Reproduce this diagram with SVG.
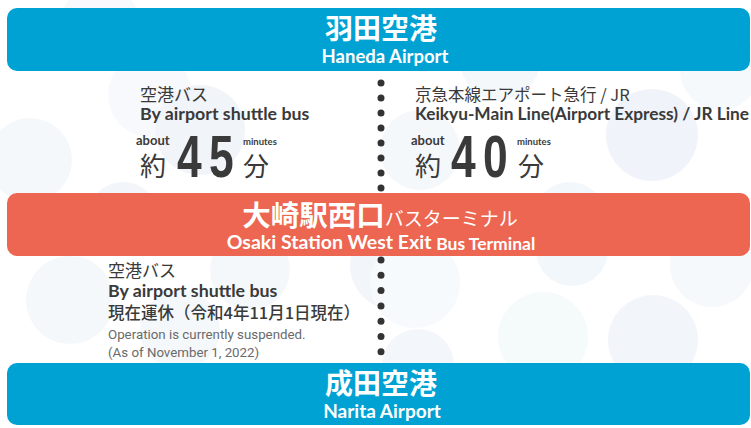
<svg xmlns="http://www.w3.org/2000/svg" width="751" height="428" viewBox="0 0 751 428">
<style>
.jp{font-family:"Noto Sans CJK JP","Noto Sans",sans-serif}
.en{font-family:Lato,"Noto Sans",sans-serif}
.tw{fill:#fff;text-anchor:middle}
.dk{fill:#3a3a3a}
.gy{fill:#6a6a6a}
.dot{fill:#333}
.big{font-family:"Liberation Sans",Arial,sans-serif;font-weight:bold;font-size:60px;fill:#3a3a3a;letter-spacing:10px}
</style>
<rect width="751" height="428" fill="#fff"/>
<g id="background" opacity="0.45">
<circle cx="150" cy="95" r="42" fill="#eef3f9"/>
<circle cx="200" cy="130" r="45" fill="#e2e8f3"/>
<circle cx="30" cy="160" r="42" fill="#eaf0f7"/>
<circle cx="123" cy="218" r="36" fill="#e3edf8"/>
<circle cx="100" cy="25" r="40" fill="#eef3f9"/>
<circle cx="500" cy="60" r="40" fill="#eaf1f8"/>
<circle cx="652" cy="135" r="46" fill="#e0e6f2"/>
<circle cx="570" cy="218" r="36" fill="#e3eef8"/>
<circle cx="720" cy="70" r="40" fill="#ebf2f9"/>
<circle cx="420" cy="150" r="40" fill="#eaf1f8"/>
<circle cx="395" cy="265" r="45" fill="#e3edf8"/>
<circle cx="415" cy="283" r="45" fill="#edf4fc"/>
<circle cx="572" cy="250" r="36" fill="#e2eef8"/>
<circle cx="712" cy="265" r="42" fill="#ecf2f9"/>
<circle cx="543" cy="337" r="45" fill="#ebf5f7"/>
<circle cx="653" cy="340" r="45" fill="#e3edf8"/>
<circle cx="418" cy="365" r="36" fill="#e6eff8"/>
<circle cx="70" cy="300" r="44" fill="#eaf1f8"/>
<circle cx="250" cy="270" r="40" fill="#ebf1f8"/>
<circle cx="180" cy="330" r="40" fill="#eaf0f7"/>
</g>
<g id="connectors">
<g id="dots-upper">
<circle class="dot" cx="381" cy="83" r="3.5"/><circle class="dot" cx="381" cy="98" r="3.5"/><circle class="dot" cx="381" cy="113" r="3.5"/><circle class="dot" cx="381" cy="128" r="3.5"/><circle class="dot" cx="381" cy="143" r="3.5"/><circle class="dot" cx="381" cy="158" r="3.5"/><circle class="dot" cx="381" cy="173" r="3.5"/><circle class="dot" cx="381" cy="188" r="3.5"/>
</g>
<g id="dots-lower">
<circle class="dot" cx="381" cy="260" r="3.5"/><circle class="dot" cx="381" cy="275.3" r="3.5"/><circle class="dot" cx="381" cy="290.6" r="3.5"/><circle class="dot" cx="381" cy="305.9" r="3.5"/><circle class="dot" cx="381" cy="321.2" r="3.5"/><circle class="dot" cx="381" cy="336.5" r="3.5"/><circle class="dot" cx="381" cy="351.8" r="3.5"/>
</g>
<g id="label-bus-haneda">
<text class="jp dk" x="140" y="101" font-size="17">空港バス</text>
<text class="en dk" x="140" y="120" font-size="17.8" font-weight="bold">By airport shuttle bus</text>
<text class="en dk" x="136" y="145" font-size="13" font-weight="bold">about</text>
<text class="jp dk" x="140" y="176" font-size="26">約</text>
<text class="big" transform="translate(177,177) scale(0.74,1)">45</text>
<text class="en dk" x="243" y="145" font-size="9.5" font-weight="bold">minutes</text>
<text class="jp dk" x="243" y="176" font-size="26">分</text>
</g>
<g id="label-train-haneda">
<text class="jp dk" x="415" y="101" font-size="16.5">京急本線エアポート急行 / JR</text>
<text class="en dk" x="415" y="120" font-size="17.3" font-weight="bold">Keikyu-Main Line(Airport Express) / JR Line</text>
<text class="en dk" x="411" y="145" font-size="13" font-weight="bold">about</text>
<text class="jp dk" x="415" y="176" font-size="26">約</text>
<text class="big" transform="translate(451,177) scale(0.74,1)">40</text>
<text class="en dk" x="517" y="145" font-size="9.5" font-weight="bold">minutes</text>
<text class="jp dk" x="518" y="176" font-size="26">分</text>
</g>
<g id="label-bus-narita">
<text class="jp dk" x="108" y="277" font-size="17">空港バス</text>
<text class="en dk" x="108" y="297" font-size="17.8" font-weight="bold">By airport shuttle bus</text>
<text class="jp dk" x="108" y="319" font-size="16.5" font-weight="500">現在運休（令和4年11月1日現在）</text>
<text class="gy" x="108" y="339" font-size="13.3" font-family="Roboto,'Liberation Sans',sans-serif">Operation is currently suspended.</text>
<text class="gy" x="108" y="357" font-size="13.3" font-family="Roboto,'Liberation Sans',sans-serif">(As of November 1, 2022)</text>
</g>
</g>
<g id="haneda">
<rect x="7" y="8" width="743" height="63" rx="10" fill="#00a2d3"/>
<text class="jp tw" x="381" y="39" font-size="28" font-weight="bold">羽田空港</text>
<text class="en tw" x="385" y="63" font-size="18.5" font-weight="bold">Haneda Airport</text>
</g>
<g id="osaki">
<rect x="7" y="193" width="743" height="63" rx="10" fill="#ec6651"/>
<text class="jp tw" x="380" y="226" font-weight="bold"><tspan font-size="28.5">大崎駅西口</tspan><tspan font-size="19" font-weight="normal">バスターミナル</tspan></text>
<text class="en tw" x="381" y="249" font-weight="bold"><tspan font-size="19.5">Osaki Station West Exit </tspan><tspan font-size="17.5" dy="1">Bus Terminal</tspan></text>
</g>
<g id="narita">
<rect x="7" y="363" width="743" height="62" rx="10" fill="#00a2d3"/>
<text class="jp tw" x="381" y="394" font-size="28" font-weight="bold">成田空港</text>
<text class="en tw" x="382" y="418" font-size="19" font-weight="bold">Narita Airport</text>
</g>
</svg>
